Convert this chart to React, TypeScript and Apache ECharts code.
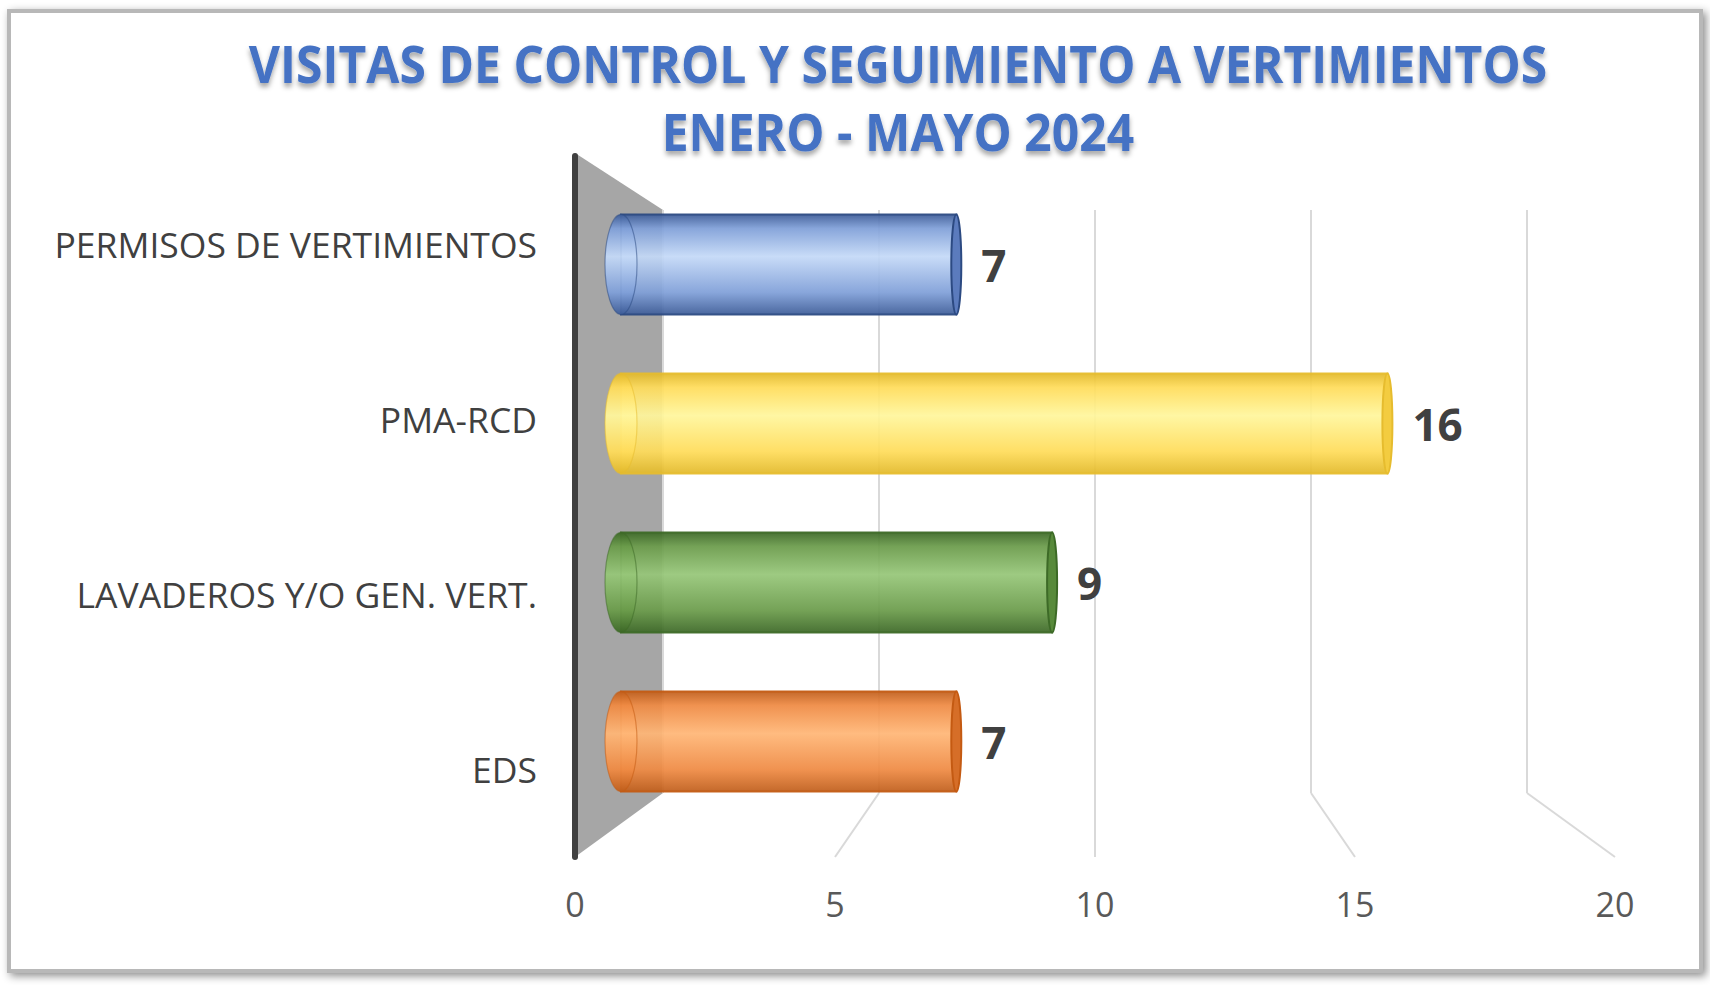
import React, { useEffect, useRef } from "react";
import * as echarts from "echarts";

const categories = ["PERMISOS DE VERTIMIENTOS", "PMA-RCD", "LAVADEROS Y/O GEN. VERT.", "EDS"];
const values = [7, 16, 9, 7];
const xTicks = [0, 5, 10, 15, 20];
const titleLines = ["VISITAS DE CONTROL Y SEGUIMIENTO A VERTIMIENTOS", "ENERO - MAYO 2024"];

const palette = [
  { dark: "#3d5c98", mid: "#7f9fd8", light: "#c4d9f7", stroke: "#2c4a82", end: "#5b7bbd" },
  { dark: "#e2b92a", mid: "#ffdc5a", light: "#fff69c", stroke: "#e6bc2e", end: "#f3cc40" },
  { dark: "#3c6826", mid: "#6a9b4a", light: "#96c678", stroke: "#3d6a27", end: "#588a3b" },
  { dark: "#c05e1b", mid: "#ef8a43", light: "#ffb676", stroke: "#c45a12", end: "#d66e28" },
];

const FRONT = { left: 575, top: 156, width: 1040, height: 701 };
const BACK = { left: 663, top: 210, width: 864, height: 583 };
const BARS = { left: 621, top: 185, width: 958, height: 636 };
const FONT = "'Open Sans', 'Noto Sans', sans-serif";

export default function App() {
  const ref = useRef<HTMLDivElement>(null);
  useEffect(() => {
    if (!ref.current) return;
    const chart = echarts.init(ref.current, undefined, { renderer: "svg" });
    const gradient = (p: any) => ({
      type: "linear", x: 0, y: 0, x2: 0, y2: 1,
      colorStops: [
        { offset: 0, color: p.dark },
        { offset: 0.14, color: p.mid },
        { offset: 0.42, color: p.light },
        { offset: 0.78, color: p.mid },
        { offset: 1, color: p.dark },
      ],
    });
    const option: any = {
      animation: false,
      backgroundColor: "#ffffff",
      grid: [
        { ...FRONT },
        { ...BACK },
        { ...BARS },
      ],
      xAxis: [
        {
          gridIndex: 0, type: "value", min: 0, max: 20, interval: 5,
          axisLine: { show: false }, axisTick: { show: false }, splitLine: { show: false },
          axisLabel: { fontSize: 34, color: "#595959", margin: 30, fontFamily: FONT,
            formatter: (v: number) => (xTicks.indexOf(v) >= 0 ? String(v) : "") },
        },
        {
          gridIndex: 1, type: "value", min: 0, max: 20, interval: 5,
          axisLine: { show: false }, axisTick: { show: false }, axisLabel: { show: false },
          splitLine: { show: true, lineStyle: { color: "#d9d9d9", width: 2 } },
        },
        { gridIndex: 2, type: "value", min: 0, max: 20, show: false },
      ],
      yAxis: [
        {
          gridIndex: 0, type: "category", data: categories, inverse: true, z: 10,
          axisLine: { show: true, lineStyle: { color: "#404040", width: 6, cap: "round" } },
          axisTick: { show: false }, splitLine: { show: false },
          axisLabel: { fontSize: 35.5, color: "#404040", margin: 38, fontFamily: FONT },
        },
        { gridIndex: 1, type: "value", min: 0, max: 1, show: false },
        { gridIndex: 2, type: "category", data: categories, inverse: true, show: false },
      ],
      series: [
        {
          type: "custom",
          xAxisIndex: 2,
          yAxisIndex: 2,
          z: 5,
          encode: { x: 0, y: 1 },
          data: values.map((v, i) => [v, i]),
          renderItem: (params: any, api: any) => {
            const v = api.value(0);
            const idx = api.value(1);
            const p = palette[idx % palette.length];
            const c0 = api.coord([0, idx]);
            const c1 = api.coord([v, idx]);
            const band = api.size([0, 1])[1];
            const h = band * 0.63;
            const cy = c0[1];
            const rxL = 16;
            const rxR = 5;
            const fill = gradient(p);
            return {
              type: "group",
              children: [
                {
                  type: "rect",
                  shape: { x: c0[0], y: cy - h / 2, width: c1[0] - c0[0], height: h },
                  style: { fill, stroke: p.stroke, lineWidth: 2, opacity: 0.93 },
                },
                {
                  type: "ellipse",
                  shape: { cx: c0[0], cy, rx: rxL, ry: h / 2 },
                  style: { fill, stroke: p.stroke, lineWidth: 1.2, strokeOpacity: 0.55, opacity: 0.95 },
                },
                {
                  type: "ellipse",
                  shape: { cx: c1[0], cy, rx: rxR, ry: h / 2 },
                  style: { fill: p.end, stroke: p.stroke, lineWidth: 2 },
                },
                {
                  type: "text",
                  style: {
                    text: String(v), x: c1[0] + rxR + 20, y: cy,
                    align: "left", verticalAlign: "middle",
                    fontSize: 44, fontWeight: "bold", fontFamily: FONT, fill: "#404040",
                  },
                },
              ],
            };
          },
        },
      ],
    };
    chart.setOption(option);

    // second pass: perspective decorations derived from the axes
    const frontBottom = FRONT.top + FRONT.height;
    const fx0 = chart.convertToPixel({ xAxisIndex: 0 }, 0) as number;
    const bTop0 = chart.convertToPixel({ gridIndex: 1 }, [0, 1]) as number[];
    const bBot0 = chart.convertToPixel({ gridIndex: 1 }, [0, 0]) as number[];
    const graphics: any[] = [
      {
        type: "rect", z: -10,
        shape: { x: 9, y: 11, width: 1692, height: 960 },
        style: { fill: "#ffffff", stroke: "#b8b8b8", lineWidth: 4,
          shadowBlur: 8, shadowColor: "rgba(0,0,0,0.45)", shadowOffsetX: 3, shadowOffsetY: 3 },
      },
      {
        type: "polygon", z: -1,
        shape: { points: [[fx0, FRONT.top - 3], bTop0, bBot0, [fx0, frontBottom]] },
        style: { fill: "#a6a6a6" },
      },
    ];
    xTicks.filter((t) => t > 0).forEach((t) => {
      const b = chart.convertToPixel({ gridIndex: 1 }, [t, 0]) as number[];
      const f = chart.convertToPixel({ xAxisIndex: 0 }, t) as number;
      graphics.push({
        type: "line", z: -1,
        shape: { x1: b[0], y1: b[1], x2: f, y2: frontBottom },
        style: { stroke: "#d9d9d9", lineWidth: 2 },
      });
    });
    titleLines.forEach((line, i) => {
      graphics.push({
        type: "text", z: 20,
        x: 898, y: 63 + i * 68, scaleX: 0.925,
        style: {
          text: line, x: 0, y: 0, align: "center", verticalAlign: "middle",
          fontSize: 52, fontWeight: "bold", fontFamily: FONT, fill: "#4472c4",
          textShadowColor: "rgba(0,0,0,0.35)", textShadowBlur: 5, textShadowOffsetY: 4,
        },
      });
    });
    chart.setOption({ graphic: graphics });

    return () => chart.dispose();
  }, []);
  return <div ref={ref} style={{ position: "absolute", left: 0, top: 0, width: 1710, height: 985 }} />;
}
